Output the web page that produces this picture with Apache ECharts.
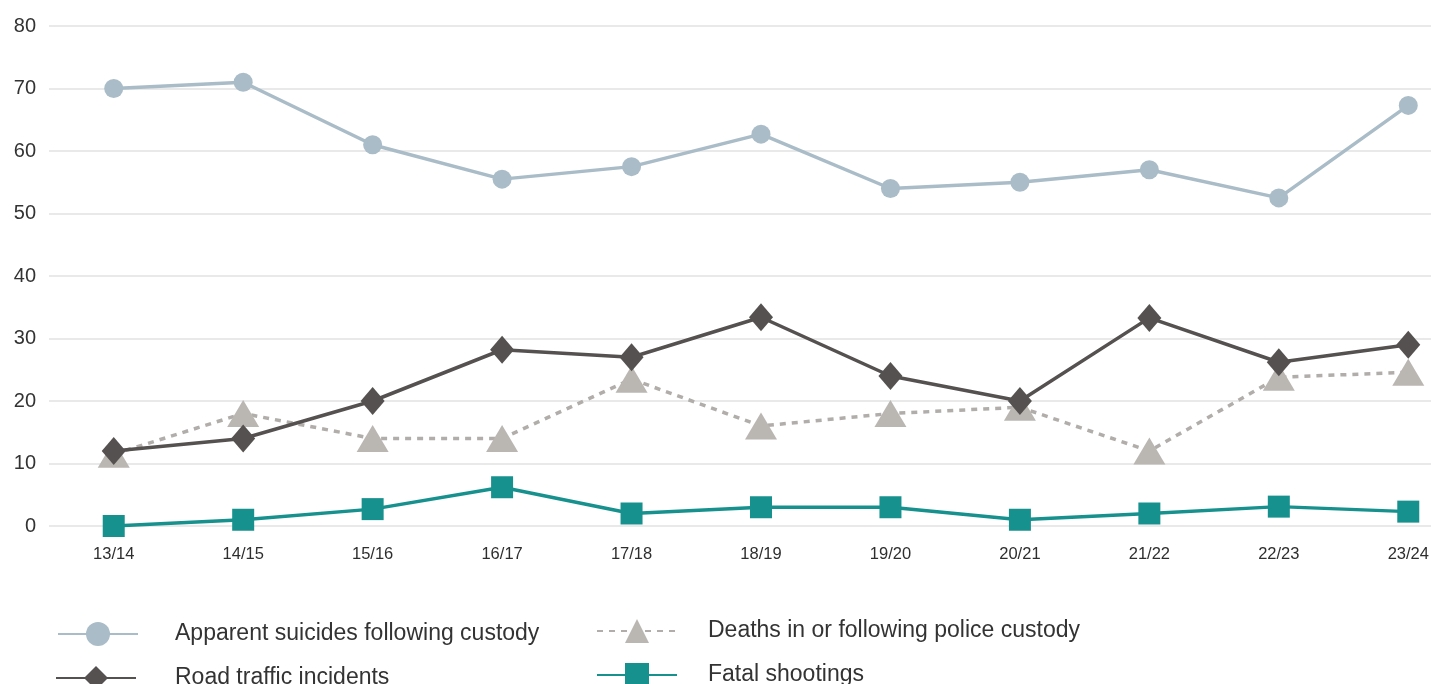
<!DOCTYPE html>
<html><head><meta charset="utf-8">
<script src="https://cdn.jsdelivr.net/npm/echarts@6/dist/echarts.min.js"></script>
<style>html,body{margin:0;padding:0;background:#fff}#c{width:1431px;height:684px}</style>
</head><body><div id="c"></div>
<script>
const categories = ['13/14','14/15','15/16','16/17','17/18','18/19','19/20','20/21','21/22','22/23','23/24'];
const suicides = [70, 71, 61, 55.5, 57.5, 62.7, 54, 55, 57, 52.5, 67.3];
const roadTraffic = [12, 14, 20, 28.2, 27, 33.4, 24, 20, 33.3, 26.2, 29];
const custodyDeaths = [11.5, 18, 14, 14, 23.5, 16, 18, 19, 12, 23.8, 24.6];
const shootings = [0, 1, 2.7, 6.2, 2, 3, 3, 1, 2, 3.1, 2.3];
const yTicks = [0, 80, 10];

const chart = echarts.init(document.getElementById('c'));
const font = 'Liberation Sans, Arial, Helvetica, sans-serif';
function legendAt(name, left, top, pad) {
  return {
    data: [name], left: left, top: top, orient: 'horizontal',
    itemWidth: 80, itemHeight: 30, selectedMode: false,
    textStyle: {fontFamily: font, fontSize: 23, color: '#333', padding: [0, 0, 0, pad]}
  };
}
chart.setOption({
  animation: false,
  grid: {left: 49, width: 1424, top: 26, bottom: 158, containLabel: false, outerBoundsMode: 'none'},
  legend: [
    legendAt('Apparent suicides following custody', 52, 617, 32),
    legendAt('Road traffic incidents', 50, 661, 34),
    legendAt('Deaths in or following police custody', 591, 614, 26),
    legendAt('Fatal shootings', 591, 658, 26)
  ],
  xAxis: {
    type: 'category', data: categories, boundaryGap: true,
    axisLine: {show: false}, axisTick: {show: false},
    axisLabel: {fontFamily: font, fontSize: 16.5, color: '#2e2e2e', margin: 20, interval: 0}
  },
  yAxis: {
    type: 'value', min: yTicks[0], max: yTicks[1], interval: yTicks[2],
    axisLine: {show: false}, axisTick: {show: false},
    axisLabel: {fontFamily: font, fontSize: 20, color: '#333', margin: 13},
    splitLine: {lineStyle: {color: '#e2e2e2', width: 1.5}}
  },
  series: [
    {name: 'Apparent suicides following custody', type: 'line', data: suicides,
     symbol: 'circle', symbolSize: 19, z: 2,
     itemStyle: {color: '#a9bcc7'}, lineStyle: {color: '#a9bcc7', width: 3.5}},
    {name: 'Deaths in or following police custody', type: 'line', data: custodyDeaths,
     symbol: 'triangle', symbolSize: [32, 27], z: 3,
     itemStyle: {color: '#bab6b2'}, lineStyle: {color: '#b0adaa', width: 3.5, type: [6, 6]}},
    {name: 'Road traffic incidents', type: 'line', data: roadTraffic,
     symbol: 'diamond', symbolSize: [24, 28], z: 4,
     itemStyle: {color: '#545150'}, lineStyle: {color: '#545150', width: 3.5}},
    {name: 'Fatal shootings', type: 'line', data: shootings,
     symbol: 'rect', symbolSize: 22, z: 5,
     itemStyle: {color: '#17918e'}, lineStyle: {color: '#17918e', width: 3.5}}
  ]
});
</script></body></html>
